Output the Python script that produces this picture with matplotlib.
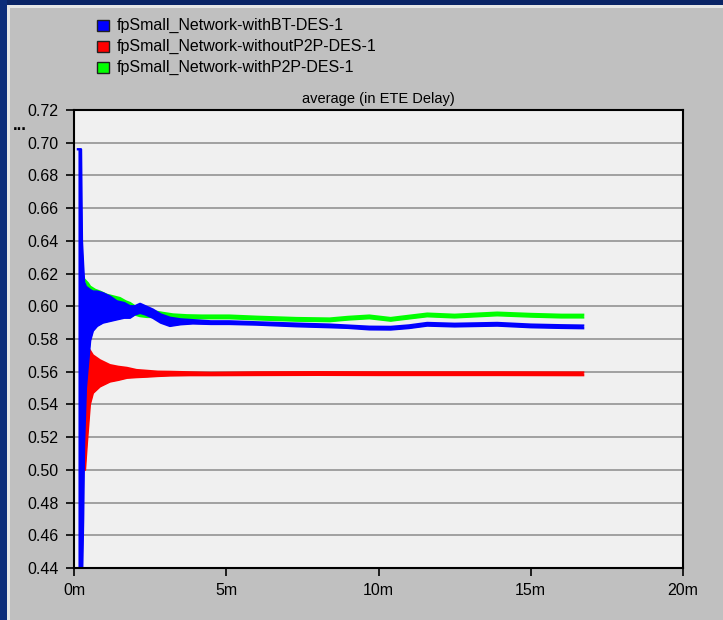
import matplotlib.pyplot as plt
from matplotlib.patches import Rectangle

# -------------------------
# data (time in minutes, delay in seconds)
# each series is drawn as a band between a low and a high edge
# -------------------------
t_blue = [0.13, 0.23, 0.26, 0.30, 0.33, 0.39, 0.46, 0.53, 0.62, 0.76, 0.95, 1.18,
          1.41, 1.65, 1.84, 2.00, 2.17, 2.35, 2.59, 2.85, 3.15, 3.5, 3.9, 4.5,
          5.1, 6.0, 7.3, 8.4, 9.0, 9.7, 10.4, 11.0, 11.6, 12.5, 13.9, 15.0, 16.0, 16.72]
blue_hi = [0.696, 0.696, 0.640, 0.625, 0.615, 0.612, 0.611, 0.610, 0.609, 0.609, 0.608, 0.606,
           0.603, 0.602, 0.600, 0.600, 0.6015, 0.600, 0.598, 0.595, 0.593, 0.592, 0.5915, 0.5908,
           0.5908, 0.5902, 0.5894, 0.5888, 0.5882, 0.5875, 0.5874, 0.5883, 0.5898, 0.5893, 0.5898,
           0.5888, 0.5884, 0.5882]
blue_lo = [0.430, 0.430, 0.430, 0.470, 0.516, 0.550, 0.565, 0.579, 0.585, 0.588, 0.590, 0.591,
           0.592, 0.593, 0.593, 0.595, 0.596, 0.595, 0.593, 0.590, 0.588, 0.589, 0.5895, 0.5892,
           0.5892, 0.5888, 0.5878, 0.5872, 0.5868, 0.5859, 0.5858, 0.5867, 0.5882, 0.5877, 0.5882,
           0.5872, 0.5868, 0.5866]

t_green = [0.36, 0.46, 0.53, 0.70, 0.85, 1.08, 1.30, 1.51, 1.70, 1.84, 2.00, 2.17, 2.40, 2.59,
           2.90, 3.25, 3.7, 4.2, 5.1, 6.0, 7.3, 8.4, 9.0, 9.7, 10.4, 10.7, 11.6, 12.5, 13.9,
           15.0, 16.0, 16.72]
green_hi = [0.616, 0.614, 0.612, 0.610, 0.609, 0.607, 0.606, 0.605, 0.603, 0.602, 0.600, 0.598,
            0.597, 0.597, 0.596, 0.595, 0.5945, 0.5943, 0.5943, 0.5936, 0.5928, 0.5925, 0.5935,
            0.5943, 0.5928, 0.5935, 0.5955, 0.5948, 0.5961, 0.5953, 0.5948, 0.5948]
green_lo = [0.604, 0.603, 0.603, 0.602, 0.602, 0.601, 0.600, 0.599, 0.598, 0.597, 0.595, 0.594,
            0.5935, 0.5935, 0.593, 0.5925, 0.5925, 0.5927, 0.5927, 0.592, 0.5912, 0.5909, 0.5919,
            0.5927, 0.5912, 0.5919, 0.5939, 0.5932, 0.5945, 0.5937, 0.5932, 0.5932]

t_red = [0.27, 0.36, 0.42, 0.52, 0.62, 0.85, 1.18, 1.45, 1.74, 2.05, 2.40, 2.75, 3.15, 3.8,
         4.5, 6.0, 8.0, 10.0, 12.0, 14.0, 16.72]
red_hi = [0.530, 0.570, 0.575, 0.573, 0.570, 0.567, 0.564, 0.563, 0.5623, 0.561, 0.5605, 0.560,
          0.5599, 0.5596, 0.5593, 0.5596, 0.5597, 0.5596, 0.5596, 0.5596, 0.5595]
red_lo = [0.500, 0.500, 0.516, 0.540, 0.547, 0.551, 0.554, 0.555, 0.5563, 0.5567, 0.557, 0.5574,
          0.5577, 0.5579, 0.5579, 0.558, 0.5581, 0.558, 0.558, 0.558, 0.5579]

labels = ['fpSmall_Network-withBT-DES-1',
          'fpSmall_Network-withoutP2P-DES-1',
          'fpSmall_Network-withP2P-DES-1']
colors = ['#0000FF', '#FF0000', '#00FF00']

x_ticks = [0, 5, 10, 15, 20]
x_ticklabels = ['0m', '5m', '10m', '15m', '20m']
y_ticks = [0.44, 0.46, 0.48, 0.50, 0.52, 0.54, 0.56, 0.58, 0.60, 0.62, 0.64, 0.66, 0.68, 0.70, 0.72]

plt.rcParams['font.family'] = ['Liberation Sans', 'DejaVu Sans']

W, H = 723, 620
fig = plt.figure(figsize=(W / 100, H / 100), dpi=100, facecolor='#C0C0C0')

# window frame (navy border top and left)
def px_rect(x0, y0, w, h, color):
    fig.add_artist(Rectangle((x0 / W, 1 - (y0 + h) / H), w / W, h / H,
                             transform=fig.transFigure, facecolor=color,
                             edgecolor='none', zorder=0))

px_rect(0, 0, W, 5, '#0a2466')
px_rect(0, 0, 7, H, '#0b2c7a')
px_rect(7, 5, W - 7, 3, '#e6e6e6')
px_rect(7, 5, 3, H - 5, '#e6e6e6')

ax = fig.add_axes([74 / W, 1 - 568 / H, (683 - 74) / W, (568 - 110) / H])
ax.set_facecolor('#F0F0F0')

# red first, then green, blue on top
series = [(t_red, red_lo, red_hi, colors[1]),
          (t_green, green_lo, green_hi, colors[2]),
          (t_blue, blue_lo, blue_hi, colors[0])]
for k, (t, lo, hi, c) in enumerate(series):
    z = 2 + k
    ax.fill_between(t, lo, hi, color=c, linewidth=0, zorder=z)
    ax.plot(t, lo, color=c, lw=1.7, zorder=z)
    ax.plot(t, hi, color=c, lw=1.7, zorder=z)

ax.set_xlim(0, 20)
ax.set_ylim(0.44, 0.72)
ax.set_xticks(x_ticks)
ax.set_xticklabels(x_ticklabels)
ax.set_yticks(y_ticks)
ax.set_yticklabels([f'{v:.2f}' for v in y_ticks])
ax.tick_params(axis='both', direction='out', length=6, width=1.2, labelsize=11.5,
               colors='black', pad=5)
ax.grid(axis='y', color='#a0a0a0', lw=1.4, zorder=1)
ax.set_axisbelow(True)
for s in ax.spines.values():
    s.set_color('black')
    s.set_linewidth(1.5)
    s.set_zorder(10)

ax.set_title('average (in ETE Delay)', fontsize=10.5, pad=5)

# legend drawn as in the original tool
for i, (lab, c) in enumerate(zip(labels, colors)):
    yc = 25.5 + 21 * i
    fig.add_artist(Rectangle((97 / W, 1 - (yc + 5.5) / H), 12 / W, 11 / H,
                             transform=fig.transFigure, facecolor=c,
                             edgecolor='#202020', lw=1))
    fig.text(117 / W, 1 - yc / H, lab, fontsize=11.5, va='center', ha='left')

fig.text(20 / W, 1 - 126 / H, '...', fontsize=12, fontweight='bold', ha='center', va='center')

fig.savefig('out.png', dpi=100, facecolor=fig.get_facecolor())
